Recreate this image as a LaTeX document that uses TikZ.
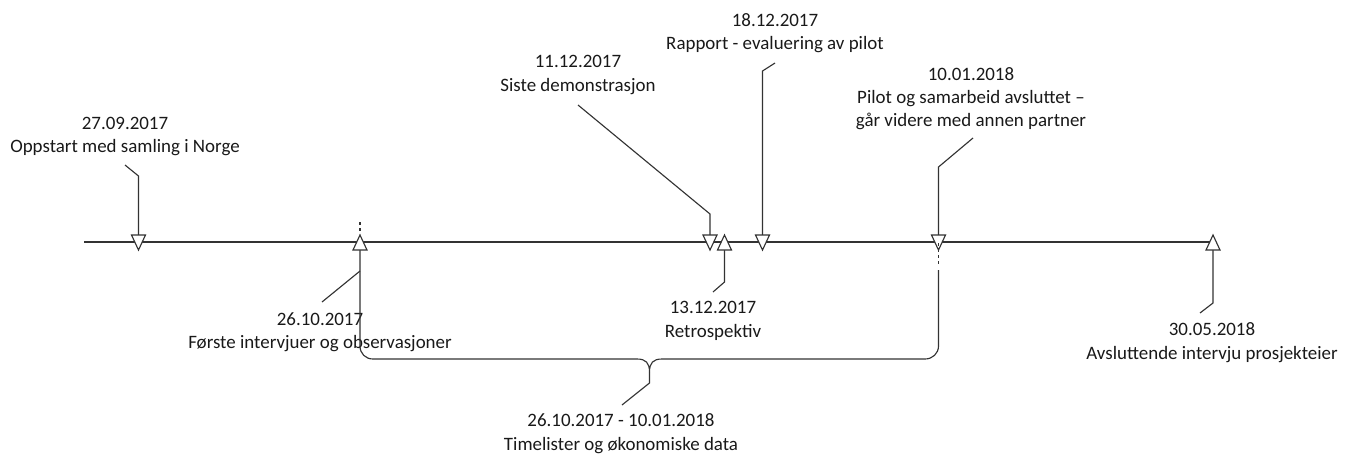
\documentclass[tikz,border=0pt]{standalone}
\usepackage{fontspec}
\setmainfont{Carlito}
\begin{document}
\begin{tikzpicture}[x=0.75pt,y=-0.75pt,
  line/.style={draw=black!80, line width=0.85pt},
  dashline/.style={draw=black!80, line width=0.85pt, dash pattern=on 2.5pt off 2pt},
  lbl/.style={align=center, font=\fontsize{14.2}{17.5}\selectfont, text=black!90, inner sep=0pt},
  dtri/.pic={\draw[line, fill=white, line join=miter] (-7,-7) -- (7,-7) -- (0,8) -- cycle;},
  utri/.pic={\draw[line, fill=white, line join=miter] (0,-7) -- (7,8) -- (-7,8) -- cycle;}]
\useasboundingbox (0,0) rectangle (1346,455);

% axis
\coordinate (a0) at (84,242);
\coordinate (a1) at (1213,242);
\draw[line] (a0) -- (a1);

% marker positions
\coordinate (m1) at (138.5,242);
\coordinate (m2) at (360,242);
\coordinate (m3) at (710,242);
\coordinate (m4) at (724.5,242);
\coordinate (m5) at (762.5,242);
\coordinate (m6) at (938.5,242);
\coordinate (m7) at (1213,242);

% labels
\node[lbl] (t1) at (125,136.5) {27.09.2017\\Oppstart med samling i Norge};
\node[lbl] (t2) at (320,332.3) {26.10.2017\\Første intervjuer og observasjoner};
\node[lbl] (t3) at (578,75) {11.12.2017\\Siste demonstrasjon};
\node[lbl] (t4) at (713,320.8) {13.12.2017\\Retrospektiv};
\node[lbl] (t5) at (775,33.3) {18.12.2017\\Rapport - evaluering av pilot};
\node[lbl] (t6) at (971,98.6) {10.01.2018\\Pilot og samarbeid avsluttet –\\går videre med annen partner};
\node[lbl] (t7) at (1212,342.8) {30.05.2018\\Avsluttende intervju prosjekteier};
\node[lbl] (t8) at (621,433.8) {26.10.2017 - 10.01.2018\\Timelister og økonomiske data};

% leader coordinates
\coordinate (e1) at (125,165);   \coordinate (k1) at (138.5,176); \coordinate (p1) at (138.5,235);
\coordinate (e2) at (322,302);   \coordinate (k2) at (360,271);
\coordinate (e3) at (578,105);   \coordinate (k3) at (710,214);   \coordinate (p3) at (710,235);
\coordinate (e4) at (713,292);   \coordinate (k4) at (724.5,282); \coordinate (p4) at (724.5,250);
\coordinate (e5) at (775,63);    \coordinate (k5) at (762.5,71);  \coordinate (p5) at (762.5,235);
\coordinate (e6) at (973,138);   \coordinate (k6) at (938.5,167); \coordinate (p6) at (938.5,235);
\coordinate (e7) at (1200,313);  \coordinate (k7) at (1213,303);  \coordinate (p7) at (1213,250);

\draw[line] (e1) -- (k1) -- (p1);
\draw[line] (e2) -- (k2);
\draw[line] (e3) -- (k3) -- (p3);
\draw[line] (e4) -- (k4) -- (p4);
\draw[line] (e5) -- (k5) -- (p5);
\draw[line] (e6) -- (k6) -- (p6);
\draw[line] (e7) -- (k7) -- (p7);

% brace
\coordinate (p2) at (360,250);
\coordinate (b6) at (938.5,270);
\coordinate (bc) at (649.5,372);
\coordinate (bs) at (649.5,383);
\coordinate (be) at (622,405);
\draw[line] (p2) -- (360,346) .. controls (360,353.5) and (365.5,359) .. (373,359)
  -- (637,359) .. controls (646,359) and (649.5,363) .. (bc)
  .. controls (649.5,363) and (653,359) .. (662,359)
  -- (925,359) .. controls (932.5,359) and (938.5,353.5) .. (938.5,346) -- (b6);
\draw[line] (bc) -- (bs) -- (be);

% dashed stubs
\coordinate (d2a) at (360,222);
\coordinate (d2b) at (360,234);
\draw[dashline] (d2a) -- (d2b);

% triangles
\pic at (m1) {dtri};
\pic at (m2) {utri};
\pic at (m3) {dtri};
\pic at (m4) {utri};
\pic at (m5) {dtri};
\pic at (m6) {dtri};
\pic at (m7) {utri};

\coordinate (d6a) at (938.5,243);
\coordinate (d6b) at (938.5,266);
\draw[dashline] (d6a) -- (d6b);
\end{tikzpicture}
\end{document}
